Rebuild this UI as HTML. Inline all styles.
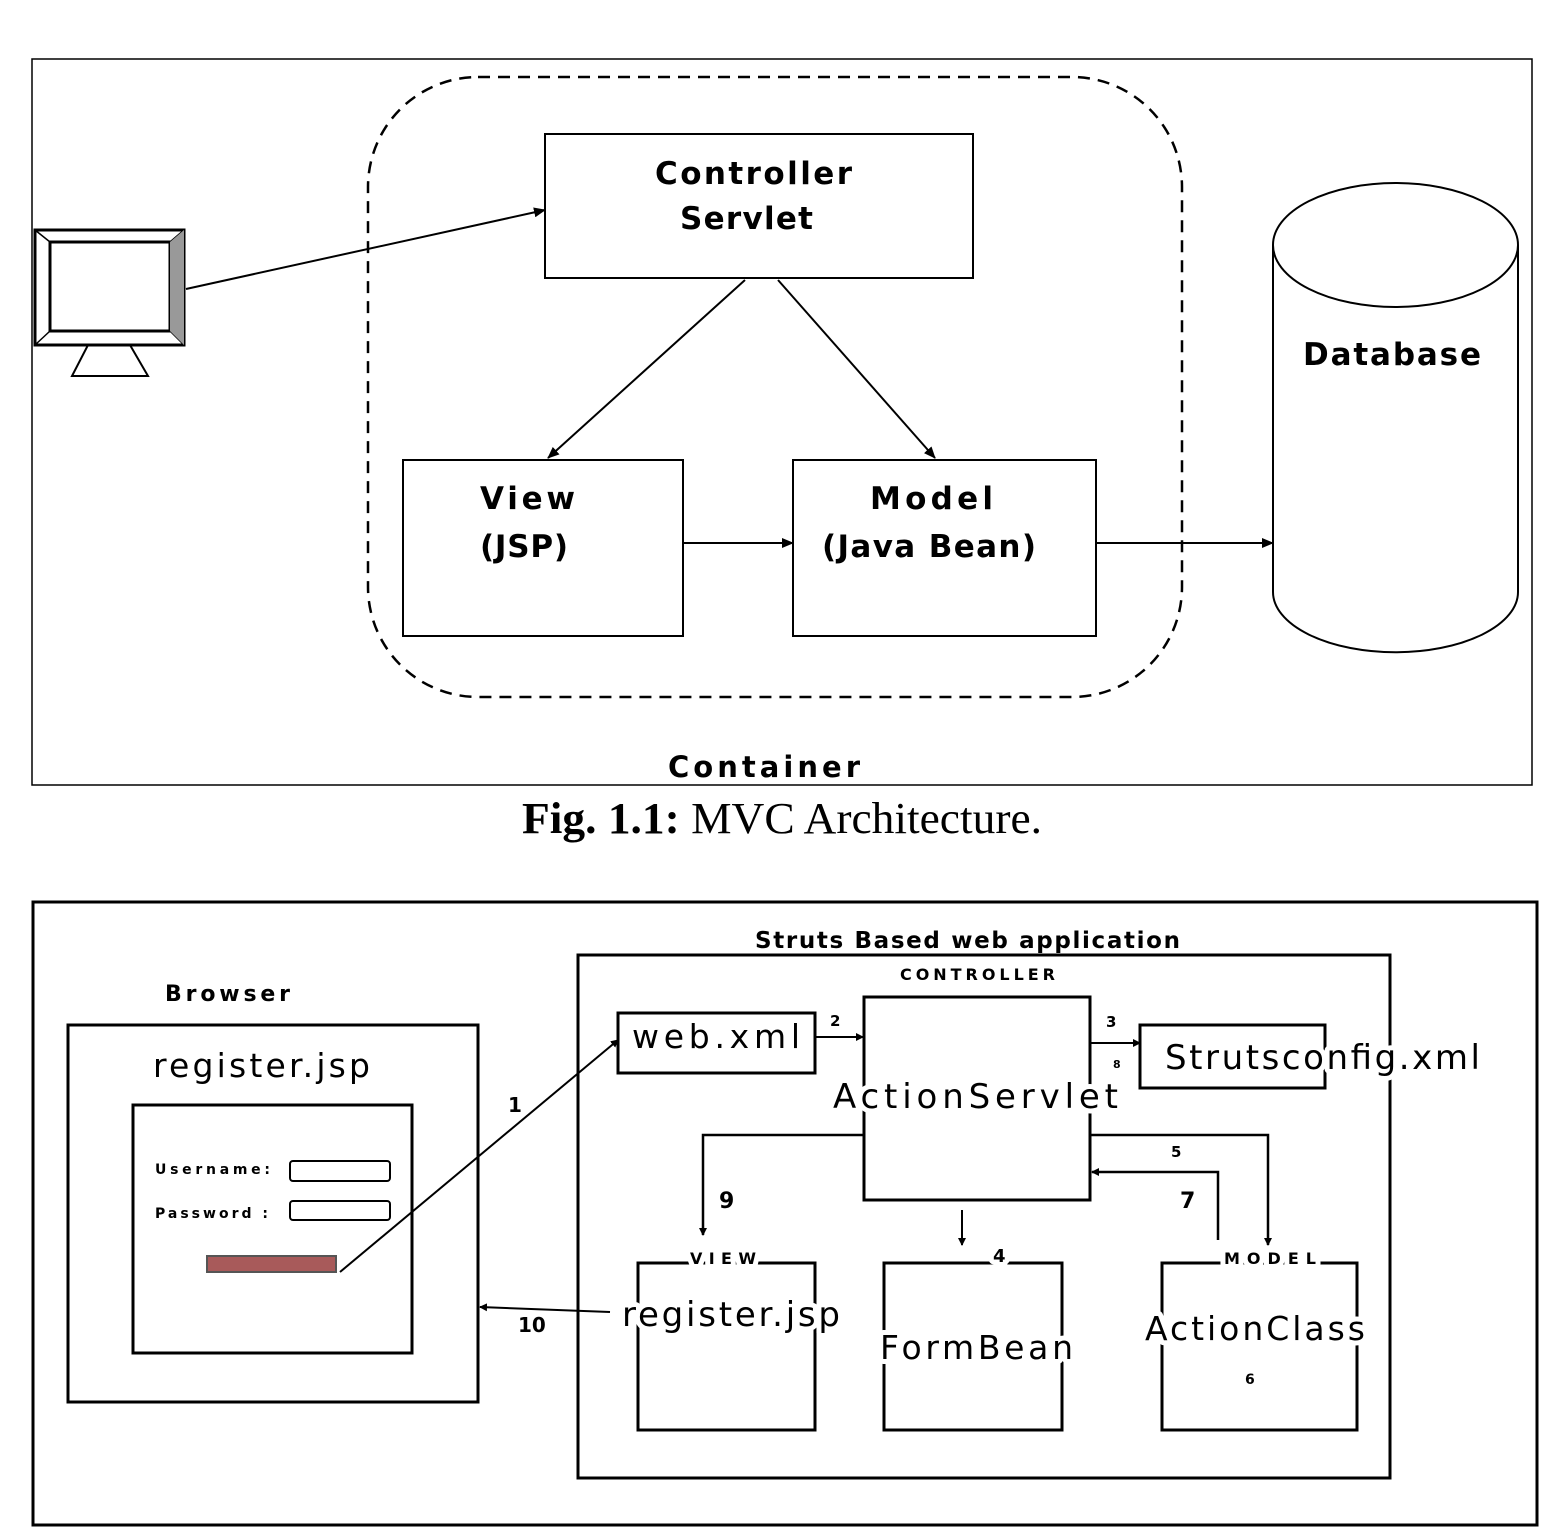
<!DOCTYPE html>
<html><head><meta charset="utf-8"><style>
html,body{margin:0;padding:0;background:#fff;}
svg{display:block}
text{font-family:"DejaVu Sans","Liberation Sans",sans-serif;}
.b{font-weight:bold}
.h{paint-order:stroke;stroke:#fff;stroke-width:10px;stroke-linejoin:round}
</style></head><body>
<svg width="1559" height="1527" viewBox="0 0 1559 1527" xmlns="http://www.w3.org/2000/svg">
<defs>
<marker id="a" markerWidth="12" markerHeight="10" refX="11" refY="5" orient="auto" markerUnits="userSpaceOnUse"><path d="M0,0 L12,5 L0,10 z" fill="#000"/></marker>
<marker id="s" markerWidth="8" markerHeight="8" refX="7" refY="4" orient="auto" markerUnits="userSpaceOnUse"><path d="M0,0 L8,4 L0,8 z" fill="#000"/></marker>
</defs>
<g fill="none" stroke="#000">
<rect x="32" y="59" width="1500" height="726" stroke-width="1.5"/>
<rect x="368" y="77" width="814" height="620" rx="110" ry="110" stroke-width="2.5" stroke-dasharray="12,8"/>
<rect x="545" y="134" width="428" height="144" stroke-width="2"/>
<rect x="403" y="460" width="280" height="176" stroke-width="2"/>
<rect x="793" y="460" width="303" height="176" stroke-width="2"/>
<path d="M1273,245 L1273,592 A122,60 0 0 0 1518,592 L1518,245" stroke-width="2"/>
<ellipse cx="1395.5" cy="245" rx="122.5" ry="62" stroke-width="2"/>
<rect x="35" y="230" width="149" height="115" stroke-width="3"/>
<rect x="50" y="242" width="120" height="89" stroke-width="3"/>
<line x1="35" y1="230" x2="50" y2="242" stroke-width="1.5"/><line x1="184" y1="230" x2="170" y2="242" stroke-width="1.5"/>
<line x1="35" y1="345" x2="50" y2="331" stroke-width="1.5"/><line x1="184" y1="345" x2="170" y2="331" stroke-width="1.5"/>
<polygon points="170,242 184,230 184,345 170,331" fill="#999" stroke="none"/>
<polygon points="88,345 130,345 148,376 72,376" stroke-width="2"/>
<line x1="186" y1="289" x2="545" y2="210" stroke-width="2" marker-end="url(#a)"/>
<line x1="745" y1="280" x2="548" y2="458" stroke-width="2" marker-end="url(#a)"/>
<line x1="778" y1="280" x2="935" y2="458" stroke-width="2" marker-end="url(#a)"/>
<line x1="683" y1="543" x2="793" y2="543" stroke-width="2" marker-end="url(#a)"/>
<line x1="1096" y1="543" x2="1273" y2="543" stroke-width="2" marker-end="url(#a)"/>
</g>
<g class="b" font-size="31">
<text x="655" y="184" textLength="197" lengthAdjust="spacing">Controller</text>
<text x="680" y="229" textLength="133" lengthAdjust="spacing">Servlet</text>
<text x="480" y="509" textLength="95" lengthAdjust="spacing">View</text>
<text x="480" y="557" textLength="88" lengthAdjust="spacing">(JSP)</text>
<text x="870" y="509" textLength="123" lengthAdjust="spacing">Model</text>
<text x="822" y="557" textLength="214" lengthAdjust="spacing">(Java Bean)</text>
<text x="1303" y="365" textLength="178" lengthAdjust="spacing">Database</text>
<text x="668" y="777" font-size="29" textLength="192" lengthAdjust="spacing">Container</text>
</g>
<text x="522" y="833" font-size="44" textLength="520" lengthAdjust="spacingAndGlyphs" style="font-family:'Liberation Serif',serif"><tspan font-weight="bold">Fig. 1.1:</tspan> MVC Architecture.</text>

<g fill="none" stroke="#000">
<rect x="33" y="902" width="1504" height="623" stroke-width="3"/>
<rect x="68" y="1025" width="410" height="377" stroke-width="3"/>
<rect x="133" y="1105" width="279" height="248" stroke-width="3"/>
<rect x="290" y="1161" width="100" height="20" rx="3" stroke-width="2"/>
<rect x="290" y="1201" width="100" height="19" rx="3" stroke-width="2"/>
<rect x="578" y="955" width="812" height="523" stroke-width="3"/>
<rect x="618" y="1013" width="197" height="60" stroke-width="3"/>
<rect x="864" y="997" width="226" height="203" stroke-width="3"/>
<rect x="1140" y="1025" width="185" height="63" stroke-width="3"/>
<rect x="638" y="1263" width="177" height="167" stroke-width="3"/>
<rect x="884" y="1263" width="178" height="167" stroke-width="3"/>
<rect x="1162" y="1263" width="195" height="167" stroke-width="3"/>
<line x1="340" y1="1272" x2="618" y2="1040" stroke-width="2" marker-end="url(#s)"/>
<line x1="815" y1="1037" x2="863" y2="1037" stroke-width="2" marker-end="url(#s)"/>
<line x1="1090" y1="1043" x2="1140" y2="1043" stroke-width="2" marker-end="url(#s)"/>
<polyline points="864,1135 703,1135 703,1235" stroke-width="2.5" marker-end="url(#s)"/>
<polyline points="1090,1135 1268,1135 1268,1245" stroke-width="2.5" marker-end="url(#s)"/>
<polyline points="1218,1240 1218,1172 1092,1172" stroke-width="2.5" marker-end="url(#s)"/>
<line x1="962" y1="1210" x2="962" y2="1245" stroke-width="2" marker-end="url(#s)"/>
<line x1="610" y1="1312" x2="480" y2="1307" stroke-width="2" marker-end="url(#s)"/>
</g>
<rect x="207" y="1256" width="129" height="16" fill="#a85a5a" stroke="#555" stroke-width="2"/>
<g>
<text class="b" x="165" y="1001" font-size="22" textLength="125" lengthAdjust="spacing">Browser</text>
<text x="153" y="1077" font-size="33" textLength="217" lengthAdjust="spacing">register.jsp</text>
<text class="b" x="155" y="1174" font-size="14" textLength="115" lengthAdjust="spacing">Username:</text>
<text class="b" x="155" y="1218" font-size="14" textLength="113" lengthAdjust="spacing">Password :</text>
<text class="b" x="755" y="948" font-size="23" textLength="425" lengthAdjust="spacing">Struts Based web application</text>
<text class="b" x="900" y="980" font-size="16" textLength="155" lengthAdjust="spacing">CONTROLLER</text>
<text x="632" y="1048" font-size="33" textLength="168" lengthAdjust="spacing">web.xml</text>
<text class="h" x="833" y="1108" font-size="34" textLength="285" lengthAdjust="spacing">ActionServlet</text>
<text class="h" x="1165" y="1069" font-size="34" textLength="315" lengthAdjust="spacing">Strutsconfig.xml</text>
<text class="b" x="830" y="1026" font-size="15">2</text>
<text class="b" x="1106" y="1027" font-size="15">3</text>
<text class="b" x="1113" y="1068" font-size="11">8</text>
<text class="b" x="508" y="1112" font-size="20">1</text>
<text class="b" x="719" y="1208" font-size="22">9</text>
<text class="b" x="1171" y="1157" font-size="15">5</text>
<text class="b" x="1180" y="1208" font-size="22">7</text>
<text class="b h" x="993" y="1262" font-size="18">4</text>
<text class="b h" x="690" y="1264" font-size="16" textLength="66" lengthAdjust="spacing">VIEW</text>
<text class="b h" x="1224" y="1264" font-size="16" textLength="92" lengthAdjust="spacing">MODEL</text>
<text class="h" x="622" y="1326" font-size="34" textLength="218" lengthAdjust="spacing">register.jsp</text>
<text class="h" x="880" y="1359" font-size="33" textLength="193" lengthAdjust="spacing">FormBean</text>
<text class="h" x="1145" y="1340" font-size="33" textLength="220" lengthAdjust="spacing">ActionClass</text>
<text class="b" x="1245" y="1384" font-size="14">6</text>
<text class="b" x="518" y="1332" font-size="20">10</text>
</g>
</svg>
</body></html>
